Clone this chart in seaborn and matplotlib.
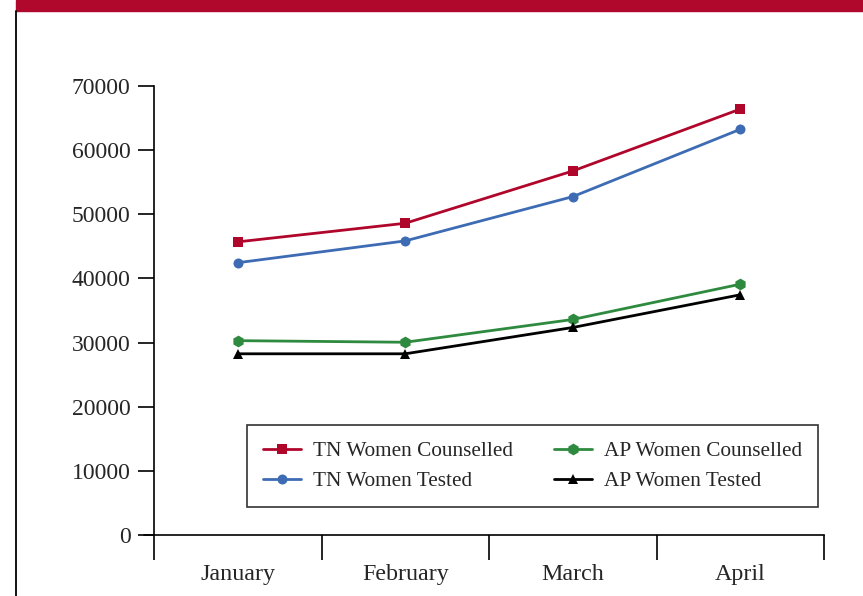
import numpy as np
import pandas as pd
import matplotlib.pyplot as plt
import seaborn as sns
from matplotlib.patches import Rectangle
from matplotlib.lines import Line2D

# chart data
months = ['January', 'February', 'March', 'April']
tn_counselled = [45700, 48600, 56750, 66400]
tn_tested = [42450, 45850, 52750, 63250]
ap_counselled = [30300, 30050, 33600, 39100]
ap_tested = [28250, 28250, 32350, 37450]
y_ticks = [0, 10000, 20000, 30000, 40000, 50000, 60000, 70000]

series = {
    'TN Women Counselled': tn_counselled,
    'TN Women Tested': tn_tested,
    'AP Women Counselled': ap_counselled,
    'AP Women Tested': ap_tested,
}
df = pd.DataFrame([
    {'month': m, 'idx': i, 'value': v, 'series': name}
    for name, vals in series.items()
    for i, (m, v) in enumerate(zip(months, vals))
])

sns.set_theme(style='white')
plt.rcParams['font.family'] = ['Liberation Serif', 'DejaVu Serif']

colors = {
    'TN Women Counselled': '#b0062b',
    'TN Women Tested': '#3d6cb4',
    'AP Women Counselled': '#2e8a3f',
    'AP Women Tested': '#000000',
}
markers = {
    'TN Women Counselled': 's',
    'TN Women Tested': 'o',
    'AP Women Counselled': 'h',
    'AP Women Tested': '^',
}
msizes = {
    'TN Women Counselled': 7,
    'TN Women Tested': 7.2,
    'AP Women Counselled': 8.5,
    'AP Women Tested': 7.5,
}

fig = plt.figure(figsize=(8.63, 5.96), dpi=100)
ax = fig.add_axes([154 / 863, 1 - 535 / 596, (824 - 154) / 863, (535 - 86) / 596])

sns.lineplot(data=df, x='idx', y='value', hue='series', style='series',
             palette=colors, markers=markers, dashes=False, markersize=7,
             markeredgewidth=0, linewidth=2, ax=ax, legend=False)
# per-series marker sizes
for line in ax.lines:
    c = line.get_color()
    for name, col in colors.items():
        if c == col:
            line.set_markersize(msizes[name])

ax.set_xlim(-0.5, 3.5)
ax.set_ylim(0, 70000)
ax.set_xlabel('')
ax.set_ylabel('')
ax.set_yticks(y_ticks)
ax.set_yticklabels([str(t) for t in y_ticks], fontsize=17)
ax.tick_params(axis='y', direction='out', length=11.5, width=1.2, color='black', pad=5.5,
               left=True)

# category separators as major ticks, labels on minor ticks
ax.set_xticks(np.arange(-0.5, len(months), 1.0))
ax.set_xticklabels([])
ax.set_xticks(np.arange(len(months)), minor=True)
ax.set_xticklabels(months, minor=True, fontsize=17.3)
ax.tick_params(axis='x', which='major', direction='out', length=18, width=1.2,
               color='black', bottom=True)
ax.tick_params(axis='x', which='minor', length=0, pad=21)

for s in ['top', 'right']:
    ax.spines[s].set_visible(False)
for s in ['left', 'bottom']:
    ax.spines[s].set_color('black')
    ax.spines[s].set_linewidth(1.2)
ax.grid(False)

# extend zero line a little to the left
ax.plot([-0.56, -0.5], [0, 0], color='black', lw=1.2, clip_on=False)

handles = [Line2D([0], [0], color=colors[n], marker=markers[n], markersize=msizes[n],
                  markeredgewidth=0, lw=2) for n in series]
leg = ax.legend(handles, list(series.keys()), ncol=2, loc='lower left',
                bbox_to_anchor=((247 - 154) / 670, (535 - 507) / 449,
                                (818 - 247) / 670, (507 - 425) / 449),
                mode='expand', borderaxespad=0, fontsize=15.3, frameon=True,
                fancybox=False, edgecolor='black', borderpad=0.75, handlelength=1.8,
                handletextpad=0.55, labelspacing=0.48, columnspacing=1.5)
leg.get_frame().set_linewidth(1.2)

# top band and left rule
fig.patches.append(Rectangle((16 / 863, 1 - 11 / 596), 1, 11 / 596,
                             transform=fig.transFigure, color='#b0082c', zorder=0))
fig.lines.append(Line2D([16 / 863, 16 / 863], [0, 1 - 11 / 596],
                        transform=fig.transFigure, color='black', lw=1.3))

fig.savefig('out.png', dpi=100)
